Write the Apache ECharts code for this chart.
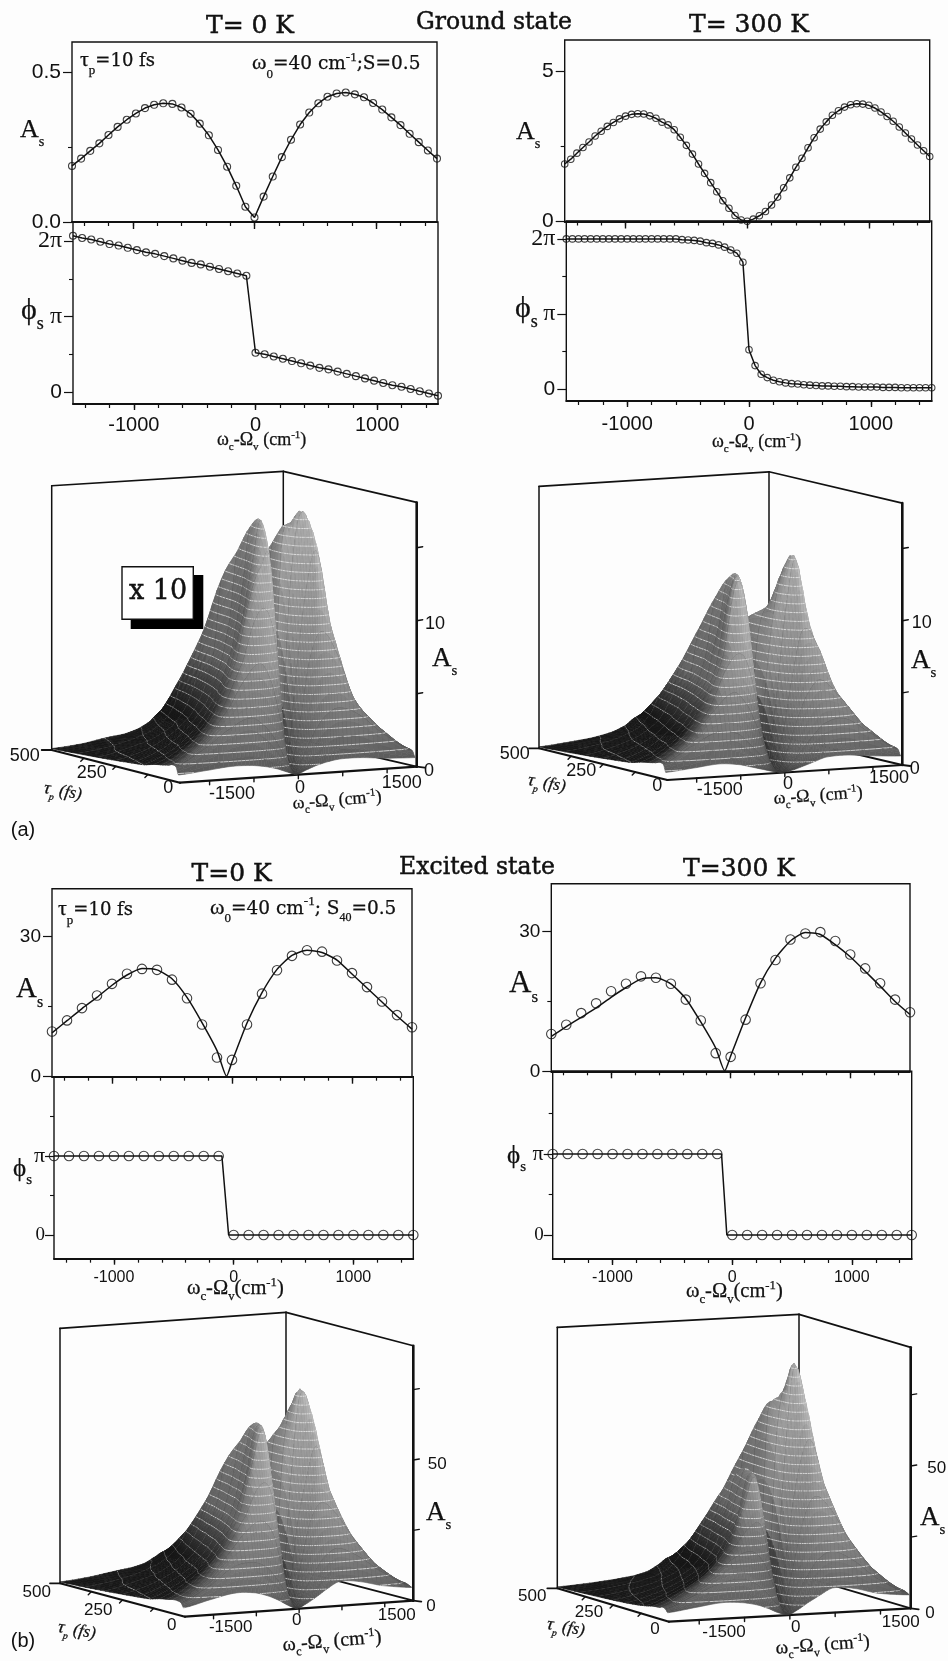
<!DOCTYPE html>
<html><head><meta charset="utf-8">
<style>html,body{margin:0;padding:0;background:#fdfdfd}#c{width:948px;height:1661px}</style>
<script src="https://cdn.jsdelivr.net/npm/echarts@6/dist/echarts.min.js"></script>
</head><body><div id="c"></div>
<script>
// ---------- 2D curves: values ----------
const G0_X=[-1500,-1425,-1350,-1275,-1200,-1125,-1050,-975,-900,-825,-750,-675,-600,-525,-450,-375,-300,-225,-150,-75,0,75,150,225,300,375,450,525,600,675,750,825,900,975,1050,1125,1200,1275,1350,1425,1500];
const G0_A=[.1875,.212,.238,.263,.291,.318,.342,.363,.381,.392,.397,.395,.383,.362,.329,.29,.241,.185,.121,.051,.015,.085,.152,.217,.275,.326,.366,.397,.419,.43,.433,.427,.417,.398,.376,.35,.324,.295,.267,.239,.212];
const G0_PHI=[2.07,2.04,2.02,1.99,1.96,1.94,1.91,1.88,1.85,1.83,1.8,1.77,1.74,1.71,1.69,1.66,1.63,1.6,1.57,1.54,.52,.5,.47,.44,.41,.38,.35,.32,.3,.27,.24,.21,.18,.15,.12,.09,.07,.04,.01,-.02,-.05];
const G300_X=[-1500,-1450,-1400,-1350,-1300,-1250,-1200,-1150,-1100,-1050,-1000,-950,-900,-850,-800,-750,-700,-650,-600,-550,-500,-450,-400,-350,-300,-250,-200,-150,-100,-50,0,50,100,150,200,250,300,350,400,450,500,550,600,650,700,750,800,850,900,950,1000,1050,1100,1150,1200,1250,1300,1350,1400,1450,1500];
const G300_A=[1.91,2.07,2.27,2.46,2.64,2.84,3,3.16,3.29,3.41,3.5,3.56,3.58,3.57,3.51,3.43,3.3,3.21,3.05,2.8,2.53,2.24,1.91,1.6,1.29,.99,.69,.44,.2,.05,.01,.08,.19,.33,.55,.81,1.12,1.45,1.8,2.1,2.45,2.78,3.07,3.31,3.53,3.68,3.8,3.88,3.91,3.9,3.86,3.77,3.64,3.49,3.33,3.14,2.94,2.74,2.54,2.35,2.16];
const G300_PHI=[2,2,2,2,2,2,2,2,2,2,2,2,2,2,2,2,2,2,2,1.99,1.985,1.98,1.97,1.95,1.94,1.92,1.89,1.853,1.81,1.69,.525,.315,.2,.155,.12,.1,.085,.075,.07,.06,.055,.05,.045,.045,.04,.04,.035,.035,.03,.03,.03,.03,.025,.025,.025,.02,.02,.02,.02,.02,.02];
const E_X=[-1500,-1375,-1250,-1125,-1000,-875,-750,-625,-500,-375,-250,-125,0,125,250,375,500,625,750,875,1000,1125,1250,1375,1500];
const E_PHI=[1,1,1,1,1,1,1,1,1,1,1,1,0,0,0,0,0,0,0,0,0,0,0,0,0];
const E0_A=[9.7,12.07,14.7,17.4,19.9,22.07,23.1,22.9,20.8,16.8,11.2,4.1,3.6,11.2,17.8,22.8,25.9,27.1,26.8,24.9,22.2,19.2,16.1,13.2,10.6];
const E0_LINE_X=[-1500,-1375,-1250,-1125,-1000,-875,-750,-625,-500,-375,-250,-125,-45,0,125,250,375,500,625,750,875,1000,1125,1250,1375,1500];
const E0_LINE_A=[9.4,12,14.6,17,19.6,21.8,23.2,22.9,21,17,11.6,5.6,.1,3.2,11.5,18,23,26,27.1,26.6,25,22,19,16,13,10.2];
const E0_PHI_LINE_X=[-1500,-98,-42,1500];
const E_PHI_LINE=[1,1,0,0];
const E300_A=[8,10,12.5,14.6,17.2,18.8,20.4,20.1,18.8,15.4,10.9,3.9,3.1,11.1,18.9,23.9,28.3,29.6,29.9,28,25.1,22.1,18.9,15.4,12.7];
const E300_LINE_X=[-1500,-1375,-1250,-1125,-1000,-875,-750,-625,-500,-375,-250,-125,-50,0,125,250,375,500,625,750,875,1000,1125,1250,1375,1500];
const E300_LINE_A=[7.5,9.6,11.6,13.6,15.9,18,19.8,20.1,18.8,15.6,10.6,5,.1,3.3,11.5,19,24.3,28,29.8,29.4,27.2,24.6,21.5,18.3,15,12.2];
const E300_PHI_LINE_X=[-1500,-89,-45,1500];
// tick values
const X_MINOR=[-1400,-1200,-1000,-800,-600,-400,-200,0,200,400,600,800,1000,1200,1400];
const X_MAJOR=[-1000,0,1000];
// ---------- 3D surfaces: A_s per (tau row, omega column) ----------
const OMEGA_3D=[-2000,-1470,-1070,-730,-500,-320,-160,0,160,320,500,730,1070,1470,2000];
const TAU_3D=[6,15,30,45,70,100,140,190,250,320,400,500];
const SURF_G0=[
[.5,.7,.85,.8,.65,.45,.2,0,.25,.5,.7,.85,.85,.7,.6],
[1,2.2,3.4,4,3.4,2.4,1.1,.1,1.2,2.6,3.7,4.3,3.8,2.4,1],
[1.1,2.6,4.5,6.8,7.6,6.2,3.4,.3,3.3,7.5,9.5,8.4,4.8,2.8,1.1],
[1,2.5,4.7,7.8,10.8,11,8,.6,6.5,12,15,10,5,2.7,1],
[.9,2.3,4.4,7.8,12,14,14,1,11.8,17.2,16.4,10,5,2.4,.9],
[.8,2,3.8,6.8,10.4,14.4,16.3,1.5,15,16.3,13.5,8,3.9,2,.8],
[.6,1.6,3.1,5.4,8.2,12.4,16,2,14.6,13.5,10,5.8,3.1,1.7,.6],
[.5,1.3,2.5,4.2,6.4,9.8,14.4,2.5,13,10.5,7.2,4.4,2.5,1.4,.5],
[.4,1,1.9,3.1,4.8,7.4,12.5,3,11.5,7.7,5,3.2,1.9,1.05,.4],
[.3,.8,1.3,2.1,3.3,5.2,8.6,3,8.8,5.4,3.5,2.2,1.4,.8,.3],
[.2,.5,.9,1.4,2.1,3.2,5.3,2.5,5.4,3.3,2.2,1.5,.9,.5,.2],
[.1,.3,.6,.8,1.1,1.5,2,1.5,2,1.5,1.1,.8,.6,.3,.1]];
const SURF_G300=[
[.5,.7,.85,.7,.45,.25,.08,0,.1,.3,.55,.85,.9,.75,.6],
[1,2.2,3,2.8,1.9,1.1,.35,0,.4,1.2,2.1,3.1,3.4,2.4,1],
[1.1,2.6,4.4,5.6,4.6,2.9,1,0,1.1,3.1,5,6.1,4.8,2.8,1.1],
[1,2.5,4.6,7.6,8,5.6,2,.1,2.2,6.1,9.5,8.6,5,2.7,1],
[.9,2.3,4.4,8,13,10.5,4,.2,4.4,10.5,14.3,8.6,4.7,2.4,.9],
[.8,2,3.9,7,12,13,6.8,.4,7.2,12,13.6,7.6,4.1,2.1,.8],
[.6,1.6,3.2,5.8,9.6,13,8.6,.7,8.5,10.8,10.2,6,3.4,1.7,.6],
[.5,1.3,2.6,4.6,7.4,11.5,8.6,1,8.4,10,7.8,4.8,2.7,1.4,.5],
[.4,1,1.9,3.4,5.6,9.2,7.6,1.1,7.6,8.8,5.8,3.5,2,1.05,.4],
[.3,.8,1.4,2.4,4,6.5,5.6,1,5.7,6.4,4.2,2.5,1.45,.8,.3],
[.2,.5,.9,1.5,2.5,3.9,3.4,.8,3.6,4,2.6,1.6,.95,.5,.2],
[.1,.3,.5,.8,1.2,1.7,1.5,.5,1.6,1.7,1.2,.8,.5,.3,.1]];
const SURF_E0=[
[3,5.5,7,6.5,5,3.2,1.2,0,1.5,3.5,6,8.5,8,6,4.6],
[4.5,10,16,17,15,10.5,5,.3,5.4,11.5,17,20,17,11,5],
[5,12,21,29,31,26,13,1,14,29,36,33,23,13,5.5],
[5,12,22,33,43,42,25,2,27,44,56,40,24,13,5],
[4.5,11,20,33,51,62,41,4,42,73,68,40,23,12,4.5],
[4,10,17,29,44,62,56,6,52,70,54,33,19,10,4],
[3,8,14,24,36,53,60,8,54,58,42,26,16,8.5,3],
[2.5,6.5,11.5,19,29,43,54,10,50,46,33,21,13,7,2.5],
[2,5,9,15,22,33,46,11,44,36,25,16,10,5.5,2],
[1.5,4,6.5,10.5,16,23,32,11,33,26,18,12,7.5,4,1.5],
[1,2.5,4.5,7,10,14,19,9,21,16,11,7.5,4.5,2.5,1],
[.5,1.5,2.8,3.8,5,7,8.5,6,9.5,8,5.5,4,2.8,1.5,.5]];
const SURF_E300=[
[3,4.5,5.5,5,3.9,2.4,.8,0,1.6,3.8,6,8.5,8,5.8,4.6],
[4,8.5,12,13,11,7.6,3.6,.3,5.8,12,18,21,18,11,5],
[4.5,10,16,21,22,18,9.5,1,15,31,40,37,25,14,5.5],
[4,10,16,24,30,31,17,2,29,50,60,44,26,14,5],
[3.8,9,15,24,37,47,30,4,48,84,74,43,24,13,4.5],
[3.2,8,13,21,32,47,41,6,62,78,62,37,21,11,4],
[2.6,6.5,11,17,27,43,46,8,68,64,49,30,18,9.5,3.4],
[2.1,5.2,9,14,22,35,44,10,62,54,38,24,15,8,2.8],
[1.7,4,7,11,17,27,38,11,52,42,29,18,11,6,2.2],
[1.3,3,5,8,12,20,28,10,40,30,20,13,8,4.5,1.7],
[.9,2,3.4,5.2,8,12.5,17,8,25,18,12,8,5,2.8,1.2],
[.5,1.2,2,3,4.3,6.5,8.5,5,11,8.5,6,4.5,3,1.6,.6]];

// ---------- layout ----------
const INK='#111',SERIF='"DejaVu Serif"',TIMES='"Liberation Serif"',SANS='"Liberation Sans"';
const zip=(a,b)=>a.map((v,i)=>[v,b[i]]);
const grids=[],xAxes=[],yAxes=[],series=[];

function panel(o){
  const g=grids.length;
  grids.push({left:o.l,top:o.t,width:o.w,height:o.h,show:true,borderColor:INK,borderWidth:1.4,backgroundColor:'transparent',containLabel:false});
  const xa=xAxes.length;
  const base={type:'value',gridIndex:g,min:-1500,max:1500,interval:500,position:'bottom',splitLine:{show:false},axisLine:{onZero:false,lineStyle:{color:INK,width:1.8}}};
  xAxes.push({...base,axisTick:{customValues:X_MINOR,length:4,lineStyle:{color:INK,width:1.2}},axisLabel:{show:false}});
  xAxes.push({...base,axisLine:{show:false,onZero:false},axisTick:{customValues:X_MAJOR,length:o.labels?6:7,lineStyle:{color:INK,width:1.4}},
    axisLabel:o.labels?{show:true,customValues:X_MAJOR,color:INK,fontFamily:SANS,fontSize:o.xSize,margin:o.xMargin,formatter:v=>String(v)}:{show:false}});
  const ya=yAxes.length;
  const yb={type:'value',gridIndex:g,min:o.ymin,max:o.ymax,position:'left',splitLine:{show:false},axisLine:{show:false,onZero:false}};
  yAxes.push({...yb,axisTick:{customValues:o.yMajor,length:o.tickLen||9,lineStyle:{color:INK,width:1.2}},
    axisLabel:{show:true,customValues:o.yMajor,margin:o.yMargin||11,color:INK,fontFamily:SANS,fontSize:o.ySize,formatter:o.yFmt,rich:{pi:{fontFamily:TIMES,fontSize:o.ySize+3,color:INK},z:{fontFamily:o.zeroFont||SANS,fontSize:o.ySize,color:INK}}}});
  yAxes.push({...yb,axisTick:{customValues:o.yMinor,length:4,lineStyle:{color:INK,width:1.1}},axisLabel:{show:false}});
  series.push({type:'line',xAxisIndex:xa,yAxisIndex:ya,data:zip(o.lx,o.ly),showSymbol:false,symbol:'none',smooth:o.smooth||false,clip:false,silent:true,animation:false,lineStyle:{color:INK,width:1.5}});
  series.push({type:'scatter',xAxisIndex:xa,yAxisIndex:ya,data:zip(o.px,o.py),symbol:'circle',symbolSize:o.sym,clip:false,silent:true,animation:false,itemStyle:{color:'rgba(0,0,0,0)',borderColor:INK,borderWidth:1.1}});
}
const phiFmt=v=>v===2?'{pi|2π}':v===1?'{pi|π}':'{z|0}';
const f1=v=>v.toFixed(1), f0=v=>String(v);
// ground, T=0
panel({l:72,t:42,w:365,h:180,ymin:0,ymax:.602,yMajor:[0,.5],yMinor:[.25],yFmt:f1,ySize:21,lx:G0_X,ly:G0_A,px:G0_X,py:G0_A,sym:7});
panel({l:73,t:222,w:365,h:182,ymin:-.159,ymax:2.252,yMajor:[0,1,2],yMinor:[.5,1.5],yFmt:phiFmt,ySize:21,lx:G0_X,ly:G0_PHI,px:G0_X,py:G0_PHI,sym:7,labels:true,xSize:20,xMargin:11});
// ground, T=300
panel({l:564.7,t:40,w:365,h:181.5,ymin:0,ymax:6.03,yMajor:[0,5],yMinor:[2.5],yFmt:f0,ySize:21,lx:G300_X,ly:G300_A,px:G300_X,py:G300_A,sym:6.5});
panel({l:566.3,t:221,w:365.4,h:180,ymin:-.156,ymax:2.238,yMajor:[0,1,2],yMinor:[.5,1.5],yFmt:phiFmt,ySize:21,lx:G300_X,ly:G300_PHI,px:G300_X,py:G300_PHI,sym:6.5,labels:true,xSize:20,xMargin:13});
// excited, T=0
panel({l:52,t:888.7,w:360,h:188,ymin:0,ymax:40.29,yMajor:[0,30],yMinor:[15],yFmt:f0,ySize:19,lx:E0_LINE_X,ly:E0_LINE_A,px:E_X,py:E0_A,sym:9.5,smooth:.2});
panel({l:54,t:1076.7,w:359.3,h:182,ymin:-.3,ymax:2.004,yMajor:[0,1],yMinor:[.5,1.5],yFmt:phiFmt,ySize:19,zeroFont:TIMES,yMargin:9,lx:E0_PHI_LINE_X,ly:E_PHI_LINE,px:E_X,py:E_PHI,sym:9.5,labels:true,xSize:16,xMargin:11});
// excited, T=300
panel({l:551.3,t:883.7,w:358.7,h:187.6,ymin:0,ymax:40.3,yMajor:[0,30],yMinor:[15],yFmt:f0,ySize:19,lx:E300_LINE_X,ly:E300_LINE_A,px:E_X,py:E300_A,sym:9.5,smooth:.2});
panel({l:552.7,t:1071.3,w:359,h:187.7,ymin:-.296,ymax:2.02,yMajor:[0,1],yMinor:[.5,1.5],yFmt:phiFmt,ySize:19,zeroFont:TIMES,yMargin:9,lx:E300_PHI_LINE_X,ly:E_PHI_LINE,px:E_X,py:E_PHI,sym:9.5,labels:true,xSize:16,xMargin:11});

// hidden page-wide cartesian that the 3D projection lands on
const pg=grids.length;
grids.push({left:0,top:0,width:948,height:1661,show:false});
xAxes.push({type:'value',gridIndex:pg,min:0,max:948,show:false});
yAxes.push({type:'value',gridIndex:pg,min:0,max:1661,inverse:true,show:false});
const pgX=xAxes.length-1,pgY=yAxes.length-1;

// ---------- oblique projection frames for the 3D boxes ----------
const BOXES=[
 {A:[180,782.7],B:[416.7,766.7],C:[51.7,750],D:[283.3,735.7],pxPerA:14.6,Amax:18.1,zt:[5,10,15],M:SURF_G0},
 {A:[667.3,780],B:[902.3,765],C:[539,748.3],D:[769,733.7],pxPerA:14.43,Amax:18.15,zt:[5,10,15],M:SURF_G300},
 {A:[185,1616.7],B:[413.3,1600.7],C:[60,1583.3],D:[286,1567.3],pxPerA:2.814,Amax:90.6,zt:[25,50,75],M:SURF_E0},
 {A:[669,1621.7],B:[910.7,1608.3],C:[557.3,1588.3],D:[799,1575.3],pxPerA:2.846,Amax:91.7,zt:[25,50,75],M:SURF_E300}];
const W3=[-2000,2000],T3=[0,500];
function proj(b,w,t,a){
  const u=(w-W3[0])/(W3[1]-W3[0]),v=(t-T3[0])/(T3[1]-T3[0]);
  const f=k=>(1-u)*(1-v)*b.A[k]+u*(1-v)*b.B[k]+(1-u)*v*b.C[k]+u*v*b.D[k];
  return [f(0),f(1)-a*b.pxPerA];
}
function cr(p0,p1,p2,p3,t){return .5*((2*p1)+(-p0+p2)*t+(2*p0-5*p1+4*p2-p3)*t*t+(-p0+3*p1-3*p2+p3)*t*t*t);}
const SUBW=5,SUBT=4;
function buildMesh(M){
  const nc=OMEGA_3D.length,nr=TAU_3D.length,cols=(nc-1)*SUBW+1,rows=(nr-1)*SUBT+1;
  const at=(r,c)=>M[Math.max(0,Math.min(nr-1,r))][Math.max(0,Math.min(nc-1,c))];
  const z=[];
  for(let j=0;j<rows;j++){const r=Math.floor(j/SUBT),ft=j/SUBT-r;const row=[];
    for(let i=0;i<cols;i++){const c=Math.floor(i/SUBW),fc=i/SUBW-c;
      const ys=[-1,0,1,2].map(dr=>cr(at(r+dr,c-1),at(r+dr,c),at(r+dr,c+1),at(r+dr,c+2),fc));
      row.push(Math.max(0,cr(ys[0],ys[1],ys[2],ys[3],ft)));}
    z.push(row);}
  const wv=i=>{const c=Math.min(nc-2,Math.floor(i/SUBW));return OMEGA_3D[c]+(OMEGA_3D[c+1]-OMEGA_3D[c])*(i/SUBW-c);};
  const tv=j=>{const r=Math.min(nr-2,Math.floor(j/SUBT));return TAU_3D[r]+(TAU_3D[r+1]-TAU_3D[r])*(j/SUBT-r);};
  return {z,cols,rows,wv,tv};
}
const clamp=(v,a,b)=>Math.max(a,Math.min(b,v));
function surfaceSeries(b){
  const m=buildMesh(b.M),bandPx=8.6,lev=bandPx/b.pxPerA;
  const zTop=Math.max(...b.M.flat());
  const rowsDesc=[];for(let j=m.rows-2;j>=0;j--)rowsDesc.push([j]);
  return {type:'custom',coordinateSystem:'cartesian2d',xAxisIndex:pgX,yAxisIndex:pgY,silent:true,animation:false,clip:false,progressive:0,data:rowsDesc,
   renderItem:(p,api)=>{
    const j=api.value(0),kids=[];
    const P=(i,jj)=>api.coord(proj(b,m.wv(i),m.tv(jj),m.z[jj][i]));
    for(let i=m.cols-2;i>=0;i--){
      const p00=P(i,j),p10=P(i+1,j),p11=P(i+1,j+1),p01=P(i,j+1);
      const a=m.z[j][i],c=m.z[j][i+1],d=m.z[j+1][i+1],e=m.z[j+1][i];
      const du=(m.wv(i+1)-m.wv(i))/4000,dv=(m.tv(j+1)-m.tv(j))/500,zs=1/b.Amax;
      const gx=((c-a)+(d-e))/2*zs/du,gy=((e-a)+(d-c))/2*zs/dv;
      const hgt=clamp((a+c+d+e)/4/zTop,0,1),um=m.wv(i)/2000,vm=m.tv(j)/500;
      const base=62+112*Math.sqrt(hgt);
      const fy=clamp(gy*.6,-1,1),fx=clamp(gx*.35,-1,1);
      let gray=base*(.9+.16*fy-.08*fx);
      const dk=clamp(vm*7-.2,0,1)*clamp((.42-hgt)*4,0,1)*clamp((.2-um)*3,0,1);
      gray*=1-.72*dk;
      gray=clamp(gray,24,200)|0;
      const col=`rgb(${gray},${gray},${gray})`;
      kids.push({type:'polygon',shape:{points:[p00,p10,p11,p01]},style:{fill:col,stroke:col,lineWidth:.6}});
      // fine omega hatch
      if(hgt>.1)kids.push({type:'line',shape:{x1:p00[0],y1:p00[1],x2:p01[0],y2:p01[1]},style:{stroke:'rgba(0,0,0,.2)',lineWidth:.5}});
      // tau rows of the read matrix: the thin arcs
      if(j%SUBT===0&&j>0)kids.push({type:'line',shape:{x1:p00[0],y1:p00[1],x2:p10[0],y2:p10[1]},style:{stroke:gray<60?'rgba(170,170,170,.7)':'rgba(35,35,35,.6)',lineWidth:.7}});
      // level contours: the pale bands
      const lo=Math.min(a,c,d,e),hi=Math.max(a,c,d,e);
      for(let k=Math.ceil(lo/lev);k*lev<=hi&&k>0;k++){
        const t=k*lev,pts=[];
        const edge=(va,vb,A,B)=>{if((va<t)!==(vb<t)){const f=(t-va)/(vb-va);pts.push([A[0]+(B[0]-A[0])*f,A[1]+(B[1]-A[1])*f]);}};
        edge(a,c,p00,p10);edge(c,d,p10,p11);edge(d,e,p11,p01);edge(e,a,p01,p00);
        if(pts.length>=2)kids.push({type:'line',shape:{x1:pts[0][0],y1:pts[0][1],x2:pts[1][0],y2:pts[1][1]},style:{stroke:gray<60?'rgba(190,190,190,.7)':'rgba(232,232,232,.8)',lineWidth:1}});
      }
    }
    return {type:'group',children:kids.map(k=>({...k,silent:true}))};
   }};
}
function frameSeries(b){
  return {type:'custom',coordinateSystem:'cartesian2d',xAxisIndex:pgX,yAxisIndex:pgY,silent:true,animation:false,clip:false,data:[[0]],
   renderItem:(p,api)=>{
    const [w0,w1]=W3,[t0,t1]=T3,h=b.Amax,kids=[];
    const seg=(q,r,lw,dx=0,dy=0)=>{const a=api.coord(proj(b,...q)),c=api.coord(proj(b,...r));
      kids.push({type:'line',silent:true,shape:{x1:a[0],y1:a[1],x2:c[0]+dx,y2:c[1]+dy},style:{stroke:INK,lineWidth:lw,lineCap:'round'}});};
    seg([w0,t1,0],[w0,t1,h],1.5);seg([w1,t1,0],[w1,t1,h],1.5);
    seg([w0,t1,h],[w1,t1,h],1.7);seg([w1,t1,h],[w1,t0,h],1.7);
    seg([w1,t0,0],[w1,t0,h],2.6);seg([w0,t0,0],[w1,t0,0],2.2);seg([w0,t0,0],[w0,t1,0],2.2);seg([w1,t1,0],[w1,t0,0],1.8);
    seg([w0,t1,0],[w0,t1,0],1.8,-10,0);
    seg([w1,t0,0],[w1,t0,0],1.8,8,1);
    [-1500,-750,0,750,1500].forEach(v=>seg([v,t0,0],[v,t0,0],1.4,0,4));
    [125,250,375].forEach(v=>seg([w0,v,0],[w0,v,0],1.4,-3,3));
    b.zt.forEach(v=>seg([w1,t0,v],[w1,t0,v],1.4,6,-1));
    return {type:'group',children:kids};
   }};
}
BOXES.forEach(b=>{series.push(frameSeries(b));series.push(surfaceSeries(b));});

// ---------- real text ----------
const mctx=document.createElement('canvas').getContext('2d');
const BOLDISH={stroke:'#000',lineWidth:.45};
function rich(x,y,parts,rot){let cur=0;
  const children=parts.map(([t,fam,size,dy,ital])=>{const st=ital?'italic ':'';const font=`${st}${size}px ${fam}`;mctx.font=font;
    const el={type:'text',x:cur,y:(dy||0)-.33*size,silent:true,style:{text:t,font,fill:INK,align:'left',verticalAlign:'middle',...BOLDISH,lineWidth:.25}};cur+=mctx.measureText(t).width;return el;});
  return {type:'group',x,y,rotation:rot||0,silent:true,children};}
function cen(x,y,t,size,fam,heavy){return {type:'text',x,y,silent:true,style:{text:t,font:`${size}px ${fam||SANS}`,fill:INK,align:'center',verticalAlign:'middle',...(heavy?BOLDISH:{})}};}
const wc=(x,y,s,rot,gap)=>rich(x,y,[['ω',TIMES,s+1],['c',TIMES,s*.65,s*.28],['-Ω',TIMES,s+1],['v',TIMES,s*.65,s*.28],[(gap===undefined?' ':gap)+'(cm',TIMES,s+1],['-1',TIMES,s*.65,-s*.42],[')',TIMES,s+1]],rot);
const Asub=(x,y,s)=>rich(x,y,[['A',TIMES,s],['s',TIMES,s*.55,s*.3]]);
const Phi=(x,y,s)=>rich(x,y,[['ϕ',TIMES,s],['s',TIMES,s*.6,s*.3]]);
const tauFs=(x,y,s,rot)=>rich(x,y,[['τ',TIMES,s+3,0,true],['p',TIMES,s*.65,s*.35,true],[' (fs)',TIMES,s+2,0,true]],rot);
const els=[
 cen(250,26,'T= 0 K',25,SERIF,1),cen(494,23,'Ground state',23.5,SERIF,1),cen(749,25,'T= 300 K',25,SERIF,1),
 cen(231.7,874,'T=0 K',25,SERIF,1),cen(477,868,'Excited state',23.5,SERIF,1),cen(739,869,'T=300 K',25,SERIF,1),
 rich(80,67,[['τ',TIMES,22],['p',TIMES,13,8],['=10 fs',SERIF,18]]),
 rich(252,70.5,[['ω',TIMES,22],['0',TIMES,13,8],['=40 cm',SERIF,18.5],['-1',TIMES,13,-9],[';S=0.5',SERIF,18.5]]),
 rich(58,916.5,[['τ',TIMES,22],['p',TIMES,13,8],['=10 fs',SERIF,18]]),
 rich(210,915,[['ω',TIMES,22],['0',TIMES,13,8],['=40 cm',SERIF,18.5],['-1',TIMES,13,-9],['; S',SERIF,18.5],['40',TIMES,12,7],['=0.5',SERIF,18.5]]),
 Asub(20,139,26),Asub(516,141,26),Asub(16,999,29),Asub(509,994,31),
 Phi(21,321,30),Phi(515,319,30),Phi(13,1178,25),Phi(507,1165,25),
 wc(217,446,17),wc(712,448,17),wc(187,1295,19.5,0,''),wc(686,1298,19.5,0,''),
 // x 10 box
 {type:'rect',silent:true,shape:{x:130.7,y:575,width:72.6,height:54},style:{fill:'#000'}},
 {type:'rect',silent:true,shape:{x:122,y:566.7,width:71.3,height:52.6},style:{fill:'#fff',stroke:INK,lineWidth:1.4}},
 cen(158,592,'x 10',27,SERIF,1),
 // 3D (a) left
 cen(24.7,756,'500',18),cen(91.7,772.7,'250',18),cen(168.3,788.3,'0',18),cen(232,794.3,'-1500',18),cen(300,788.3,'0',18),cen(401.7,782.7,'1500',18),cen(429,771,'0',18),cen(435,624,'10',18),
 Asub(432,668,27),tauFs(43,794,15,-.17),wc(293,810,17,.08),cen(23,830,'(a)',20),
 // 3D (a) right
 cen(514.7,754,'500',18),cen(581.3,770.7,'250',18),cen(657.3,786,'0',18),cen(719.7,790,'-1500',18),cen(788,784,'0',18),cen(889,778.3,'1500',18),cen(914.7,769.3,'0',18),cen(921.7,623.3,'10',18),
 Asub(911,670,27),tauFs(527,786,15,-.17),wc(774,805,17,.07),
 // 3D (b) left
 cen(36.7,1592.7,'500',17),cen(98.3,1610,'250',17),cen(171.7,1625,'0',17),cen(230.7,1627.7,'-1500',17),cen(296.7,1620.7,'0',17),cen(396.7,1615,'1500',17),cen(431,1606,'0',17),cen(437.3,1464.3,'50',17),
 Asub(426,1522,27),tauFs(57,1633,15,-.17),wc(283,1652,19,.08),cen(23,1641.7,'(b)',20),
 // 3D (b) right
 cen(532.3,1596.7,'500',17),cen(589,1612.7,'250',17),cen(655,1629.3,'0',17),cen(724,1632.7,'-1500',17),cen(795.7,1627.7,'0',17),cen(900.7,1622.7,'1500',17),cen(930,1613.3,'0',17),cen(936.7,1468.3,'50',17),
 Asub(920,1527,27),tauFs(546,1630,15,-.17),wc(776,1655,18,.07)
];
const chart=echarts.init(document.getElementById('c'),null,{renderer:'canvas',width:948,height:1661});
chart.setOption({animation:false,backgroundColor:'#fdfdfd',tooltip:{show:false},grid:grids,xAxis:xAxes,yAxis:yAxes,series,graphic:{elements:els}});
</script></body></html>
